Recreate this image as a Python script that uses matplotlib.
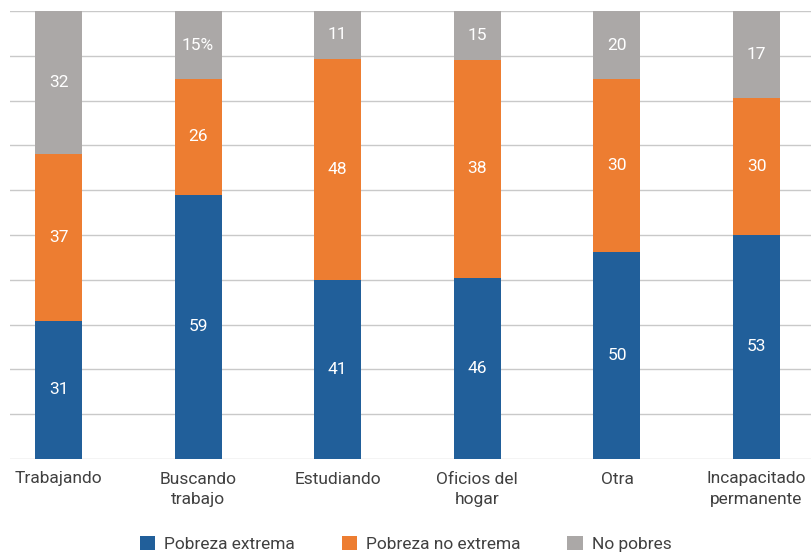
import matplotlib
matplotlib.use("Agg")
import matplotlib.pyplot as plt
from matplotlib.patches import Patch
import numpy as np

categories = ["Trabajando", "Buscando\ntrabajo", "Estudiando", "Oficios del\nhogar", "Otra",
              "Incapacitado\npermanente"]
series_names = ["Pobreza extrema", "Pobreza no extrema", "No pobres"]

# segment heights as drawn (percent)
pobreza_extrema = [30.9, 59.0, 40.0, 40.5, 46.3, 50.1]
pobreza_no_extrema = [37.2, 25.8, 49.3, 48.6, 38.5, 30.5]
no_pobres = [31.9, 15.2, 10.7, 10.9, 15.2, 19.4]

# printed labels
labels_extrema = ["31", "59", "41", "46", "50", "53"]
labels_no_extrema = ["37", "26", "48", "38", "30", "30"]
labels_no_pobres = ["32", "15%", "11", "15", "20", "17"]

colors = ["#215F9A", "#ED7D31", "#ABA8A7"]

plt.rcParams['font.family'] = ['Roboto', 'DejaVu Sans']

fig = plt.figure(figsize=(8.11, 5.57), dpi=100)
ax = fig.add_axes([10 / 811, (557 - 459) / 557, 801 / 811, 448 / 557])

x = np.arange(len(categories))
width = 0.337
bottom = np.zeros(len(categories))
for vals, labs, col in zip([pobreza_extrema, pobreza_no_extrema, no_pobres],
                           [labels_extrema, labels_no_extrema, labels_no_pobres], colors):
    vals = np.array(vals)
    bars = ax.bar(x, vals, width, bottom=bottom, color=col, zorder=3)
    ax.bar_label(bars, labels=labs, label_type='center', color='white',
                 fontsize=12.5)
    bottom += vals

ax.set_ylim(0, 100)
ax.set_xlim(-0.3474, 5.390)
ax.set_yticks(np.arange(0, 101, 10))
ax.yaxis.grid(True, color='#C9C9C9', linewidth=1.0, zorder=0)
ax.set_axisbelow(True)
ax.tick_params(axis='y', left=False, labelleft=False)
ax.set_xticks(x)
ax.set_xticklabels(categories, fontsize=12.5, color='#404040', linespacing=1.45)
ax.tick_params(axis='x', length=0, pad=9)
for s in ax.spines.values():
    s.set_visible(False)

handles = [Patch(facecolor=c, edgecolor='none') for c in colors]
fig.legend(handles, series_names, loc='center', bbox_to_anchor=(0.5, 13 / 557), ncol=3,
           frameon=False, handlelength=0.9, handleheight=0.9,
           handletextpad=0.5, columnspacing=2.7, labelcolor='#404040',
           prop={'size': 12.5})

fig.savefig("out.png", dpi=100)
